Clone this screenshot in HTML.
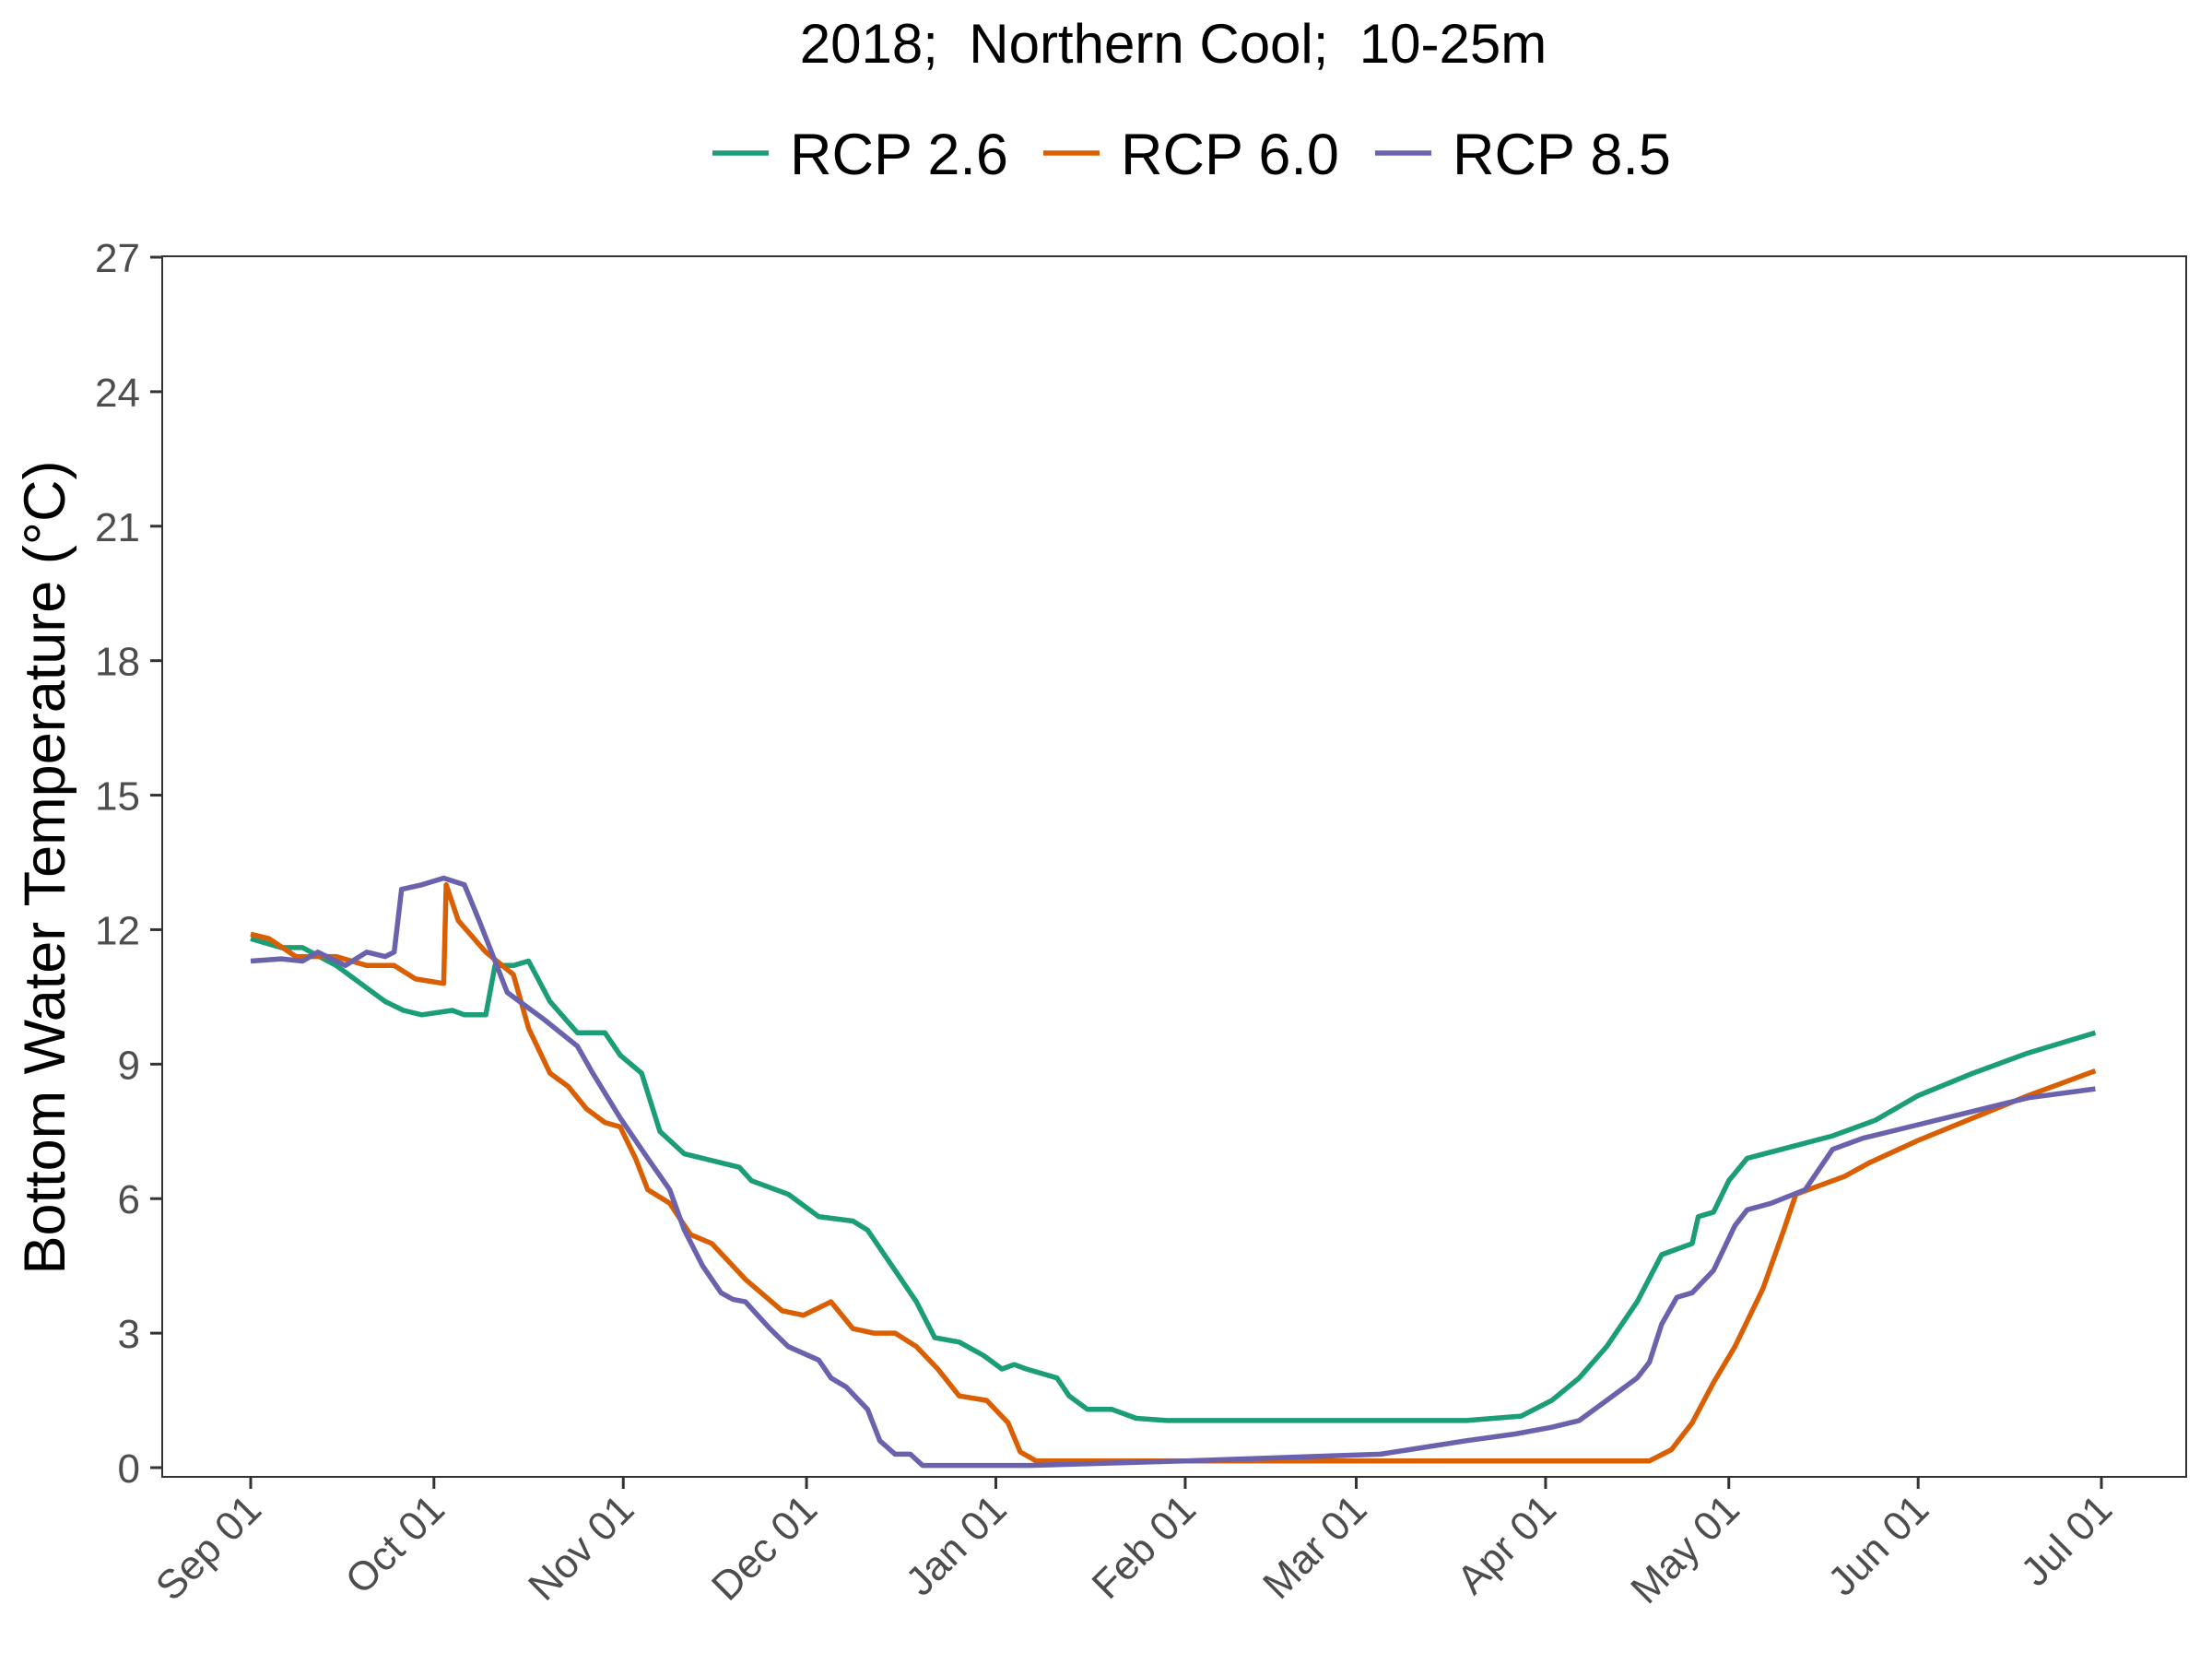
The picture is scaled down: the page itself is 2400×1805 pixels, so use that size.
<!DOCTYPE html>
<html><head><meta charset="utf-8"><style>
html,body{margin:0;padding:0;background:#fff}
svg text{font-family:"Liberation Sans",Arial,sans-serif}
</style></head><body>
<svg id="chart" width="2400" height="1800" xmlns="http://www.w3.org/2000/svg">
<text x="1273" y="68" font-size="60" text-anchor="middle" fill="#000" style="white-space:pre" xml:space="preserve">2018;  Northern Cool;  10-25m</text>
<g id="legend"></g>
<rect x="176" y="278" width="2196" height="1324" fill="none" stroke="#333" stroke-width="2"/>
<g id="yaxis"></g>
<g id="xaxis"></g>
<g id="series"></g>
<text transform="translate(70,941) rotate(-90)" font-size="63" text-anchor="middle" fill="#000">Bottom Water Temperature (°C)</text>
</svg>
<script>
const monthLabels=["Sep 01","Oct 01","Nov 01","Dec 01","Jan 01","Feb 01","Mar 01","Apr 01","May 01","Jun 01","Jul 01"];
const monthDays=[0,30,61,91,122,153,181,212,242,273,303];
const yTicks=[0,3,6,9,12,15,18,21,24,27];
const seriesNames=["RCP 2.6","RCP 6.0","RCP 8.5"];
const seriesColors=["#1b9e77","#d95f02","#6a62ad"];
const g26Days=[0,5,8.5,14,18,22,25,28,33,35,38.5,40,43,45.5,49,53.5,58,60.5,64,67,71,77,80,82,88,93,98.6,101,104,109,112,116,120,123,125,127,132,134,137,141,145,150,199,208,213,217.5,222,227,231,236,237,239.5,242,245,252,259,266,273,282,291,302];
const g26Vals=[11.8,11.6,11.6,11.2,10.8,10.4,10.2,10.1,10.2,10.1,10.1,11.2,11.2,11.3,10.4,9.7,9.7,9.2,8.8,7.5,7.0,6.8,6.7,6.4,6.1,5.6,5.5,5.3,4.7,3.7,2.9,2.8,2.5,2.2,2.3,2.2,2.0,1.6,1.3,1.3,1.1,1.05,1.05,1.15,1.5,2.0,2.7,3.7,4.75,5.0,5.6,5.7,6.4,6.9,7.15,7.4,7.75,8.3,8.8,9.25,9.7];
const g60Days=[0,3,7.4,14,19,23.5,27,31.6,32,34,38.5,43,45.5,49,52,55,58,60.5,63,65,68.6,72,75.5,81,87,90.5,95,98.6,102,105.5,109,112.5,116,120.5,124,126,128.6,134,229,232.6,236,239.5,243,247.6,251,253,259,261,265,273,282,291,302];
const g60Vals=[11.9,11.8,11.4,11.4,11.2,11.2,10.9,10.8,13.0,12.2,11.5,11.0,9.8,8.8,8.5,8.0,7.7,7.6,6.9,6.2,5.9,5.2,5.0,4.2,3.5,3.4,3.7,3.1,3.0,3.0,2.7,2.2,1.6,1.5,1.0,0.35,0.15,0.15,0.15,0.4,1.0,1.9,2.7,4.0,5.3,6.1,6.4,6.5,6.8,7.3,7.8,8.3,8.85];
const g85Days=[0,5,8.5,11,15.5,19,22,23.5,24.7,28,31.6,35,37.4,40,42,48,53.5,56,60.5,65,68.6,71,74,77,79,81,85,88,93,95,97.5,101,103,105.5,108,110,127.5,153,185,199,207,213,217.5,222,227,229,231,233.5,236,239.5,243,245,249,254.5,259,264,273,282,291,302];
const g85Vals=[11.3,11.35,11.3,11.5,11.2,11.5,11.4,11.5,12.9,13.0,13.15,13.0,12.2,11.3,10.6,10.0,9.4,8.8,7.8,6.9,6.2,5.3,4.5,3.9,3.75,3.7,3.1,2.7,2.4,2.0,1.8,1.3,0.6,0.3,0.3,0.05,0.05,0.15,0.3,0.6,0.75,0.9,1.05,1.5,2.0,2.35,3.2,3.8,3.9,4.4,5.4,5.75,5.9,6.2,7.1,7.35,7.65,7.95,8.25,8.45];

const NS="http://www.w3.org/2000/svg";
const xS=d=>272+d*(2280-272)/303;
const yS=v=>1592-v*(1592-279)/27;
function mk(tag,attrs,parent){const e=document.createElementNS(NS,tag);for(const k in attrs)e.setAttribute(k,attrs[k]);parent.appendChild(e);return e;}
const yaxis=document.getElementById('yaxis');
yTicks.forEach(v=>{
  const t=mk('line',{x1:163,x2:176,y1:yS(v),y2:yS(v),stroke:'#333','stroke-width':3},yaxis);
  
  
  const l=mk('text',{x:152,y:yS(v)+16,'font-size':44,'text-anchor':'end',fill:'#4d4d4d'},yaxis);
  l.textContent=v;
  
  
});
const xaxis=document.getElementById('xaxis');
monthDays.forEach((d,i)=>{
  const x=xS(d);
  const t=mk('line',{x1:x,x2:x,y1:1602,y2:1615,stroke:'#333','stroke-width':3},xaxis);
  
  
  const l=mk('text',{transform:`translate(${x+14},${1640}) rotate(-45)`,'font-size':44,'text-anchor':'end',fill:'#4d4d4d'},xaxis);
  l.textContent=monthLabels[i];
  
  
});
const series=document.getElementById('series');
const allDays=[g26Days,g60Days,g85Days],allVals=[g26Vals,g60Vals,g85Vals];
const keys=['rcp26','rcp60','rcp85'];
allDays.forEach((days,s)=>{
  const pts=days.map((d,i)=>xS(d).toFixed(1)+','+yS(allVals[s][i]).toFixed(1)).join(' ');
  const p=mk('polyline',{points:pts,fill:'none',stroke:seriesColors[s],'stroke-width':5.5,'stroke-linejoin':'round'},series);
  
  
});
const legend=document.getElementById('legend');
const lx=[773,1132,1492];
seriesNames.forEach((n,i)=>{
  const ln=mk('line',{x1:lx[i],x2:lx[i]+61,y1:166,y2:166,stroke:seriesColors[i],'stroke-width':5.5},legend);
  
  
  const t=mk('text',{x:lx[i]+84,y:189,'font-size':63,fill:'#000'},legend);
  t.textContent=n;
  
  
});
</script>
</body></html>
